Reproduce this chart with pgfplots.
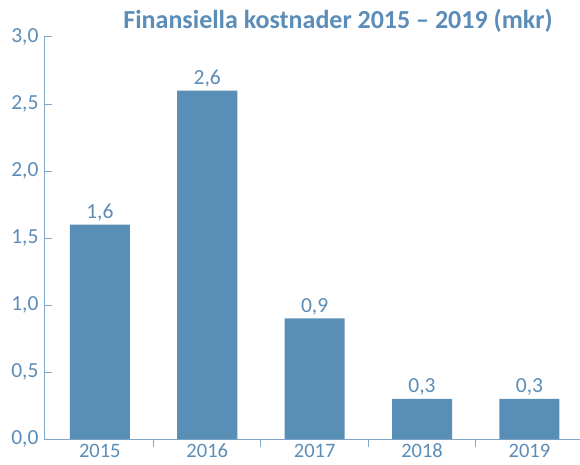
\documentclass[border=0pt]{standalone}
\usepackage{pgfplots}
\pgfplotsset{compat=1.18}
\usepackage{fontspec}
\setmainfont{Carlito}
\definecolor{barblue}{HTML}{598EB6}
\definecolor{txtblue}{HTML}{5B8DB8}
\definecolor{axblue}{HTML}{7FA5C7}
\pgfkeys{/pgf/number format/.cd, fixed, fixed zerofill, precision=1, use comma, assume math mode=true}
\begin{document}
\begin{tikzpicture}
\path[use as bounding box] (0,0) rectangle (580pt,464pt);
\begin{axis}[
  at={(44pt,25pt)}, anchor=south west,
  scale only axis, width=537pt, height=402pt,
  xmin=-0.52, xmax=4.48, ymin=0, ymax=3,
  axis x line=bottom, axis y line=left,
  axis line style={-, draw=axblue, line width=1pt},
  xtick={0,...,4}, xticklabels={2015,2016,2017,2018,2019},
  minor xtick={0.5,1.5,2.5,3.5},
  minor tick length=8pt, major tick length=8pt,
  tick align=inside,
  ytick={0,0.5,1,1.5,2,2.5,3},
  ytick style={draw=axblue, line width=1pt},
  major x tick style={draw=none},
  minor x tick style={draw=axblue, line width=1pt},
  tick label style={font=\fontsize{21.5}{21.5}\selectfont, text=txtblue},
  yticklabel style={xshift=-2pt},
  xticklabel style={font=\fontsize{20.5}{20.5}\selectfont, inner sep=0.5pt, yshift=4pt},
  ybar, bar width=60pt,
  nodes near coords,
  every node near coord/.append style={font=\fontsize{21.5}{21.5}\selectfont, text=txtblue},
  clip=false,
]
\addplot[fill=barblue, draw=none] coordinates {(0,1.6) (1,2.6) (2,0.9) (3,0.3) (4,0.3)};
\end{axis}
\node[font=\bfseries\fontsize{26}{26}\selectfont, text=txtblue] at (338pt,443pt) {Finansiella kostnader 2015 – 2019 (mkr)};
\end{tikzpicture}
\end{document}
